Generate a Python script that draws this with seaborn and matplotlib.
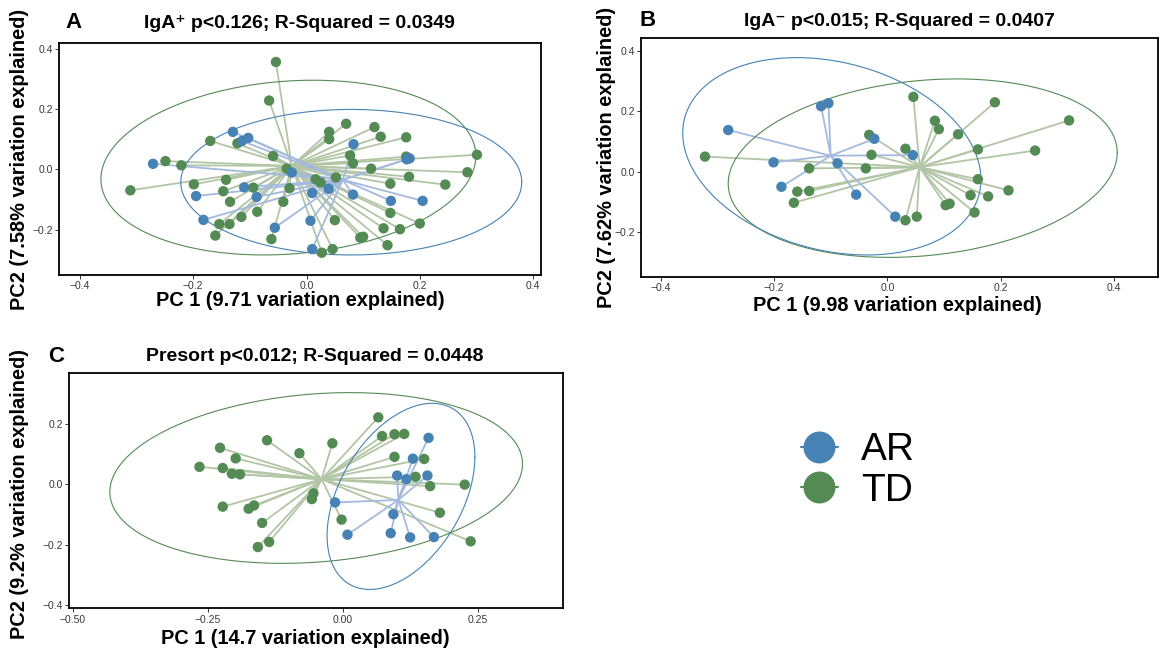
import numpy as np
import pandas as pd
import matplotlib
matplotlib.use("Agg")
import matplotlib.pyplot as plt
import seaborn as sns
from matplotlib.lines import Line2D

sns.set_theme(style="white")
plt.rcParams['font.family'] = ['Liberation Sans', 'DejaVu Sans']
plt.rcParams['axes.unicode_minus'] = True
plt.rcParams['text.color'] = 'black'

# ---------------- data ----------------
groups = ["AR", "TD"]

# Panel A (IgA+)
a_ar_x = [-0.130, -0.114, -0.103, 0.083, -0.271, 0.177, 0.182, -0.026, -0.110, -0.088,
          -0.195, 0.010, 0.039, 0.082, 0.149, 0.205, -0.182, 0.007, -0.056, 0.010]
a_ar_y = [0.124, 0.094, 0.104, 0.083, 0.018, 0.033, 0.036, -0.011, -0.060, -0.092,
          -0.089, -0.079, -0.065, -0.084, -0.105, -0.105, -0.168, -0.171, -0.194, -0.265]
a_td_x = [-0.054, -0.066, 0.070, 0.120, 0.040, 0.131, 0.040, 0.176, -0.170, -0.122,
          -0.059, 0.301, -0.249, -0.221, 0.077, 0.082, -0.035, 0.176, 0.114, 0.284,
          0.181, -0.311, -0.199, -0.142, -0.147, -0.094, -0.030, 0.016, 0.025, 0.052,
          0.148, 0.245, -0.135, -0.041, -0.087, -0.115, -0.154, -0.136, -0.161, -0.062,
          0.050, 0.148, 0.136, 0.165, 0.200, 0.095, 0.100, 0.143, 0.046, 0.027]
a_td_y = [0.356, 0.228, 0.151, 0.140, 0.124, 0.108, 0.100, 0.106, 0.094, 0.086,
          0.044, 0.048, 0.027, 0.013, 0.046, 0.020, 0.002, 0.042, 0.002, -0.010,
          -0.025, -0.070, -0.050, -0.035, -0.073, -0.061, -0.063, -0.033, -0.044, -0.027,
          -0.048, -0.051, -0.108, -0.108, -0.141, -0.158, -0.182, -0.182, -0.220, -0.232,
          -0.169, -0.145, -0.196, -0.199, -0.180, -0.227, -0.224, -0.252, -0.265, -0.277]
a_centroid_ar = [0.064, -0.035]
a_centroid_td = [-0.026, 0.011]
# ellipse: centre x, centre y, half-width, half-height, phase (deg)
a_ellipse_ar = [0.079, -0.043, 0.301, 0.2415, 90.0]
a_ellipse_td = [-0.032, 0.0055, 0.331, 0.290, 82.4]

# Panel B (IgA-)
b_ar_x = [-0.104, -0.117, -0.281, -0.023, 0.045, -0.201, -0.088, -0.187, -0.055, 0.014]
b_ar_y = [0.227, 0.217, 0.138, 0.109, 0.055, 0.031, 0.028, -0.050, -0.076, -0.149]
b_td_x = [0.046, 0.190, 0.084, 0.091, 0.321, 0.125, -0.032, 0.160, 0.261, 0.032,
          -0.028, -0.322, -0.138, -0.038, 0.160, 0.214, -0.159, -0.138, 0.147, 0.178,
          -0.165, 0.103, 0.110, 0.154, 0.032, 0.052]
b_td_y = [0.248, 0.230, 0.169, 0.141, 0.170, 0.124, 0.122, 0.074, 0.070, 0.076,
          0.056, 0.050, 0.011, 0.011, -0.025, -0.062, -0.066, -0.064, -0.078, -0.082,
          -0.103, -0.111, -0.106, -0.135, -0.161, -0.149]
b_centroid_ar = [-0.100, 0.053]
b_centroid_td = [0.057, 0.015]
b_ellipse_ar = [-0.098, 0.051, 0.2633, 0.327, 103.6]
b_ellipse_td = [0.0625, 0.0117, 0.3435, 0.2957, 80.0]

# Panel C (Presort)
c_ar_x = [0.159, 0.130, 0.101, 0.118, 0.157, -0.014, 0.094, 0.009, 0.089, 0.125, 0.169]
c_ar_y = [0.154, 0.085, 0.029, 0.017, 0.029, -0.060, -0.099, -0.167, -0.162, -0.176, -0.175]
c_td_x = [0.066, 0.073, 0.096, 0.114, -0.140, -0.019, -0.227, -0.080, -0.198, 0.096,
          0.151, -0.265, -0.222, -0.205, -0.190, 0.135, 0.162, 0.226, -0.054, -0.057,
          -0.222, -0.174, -0.164, -0.002, 0.180, -0.149, -0.136, -0.157, 0.237]
c_td_y = [0.222, 0.160, 0.166, 0.167, 0.146, 0.136, 0.121, 0.103, 0.086, 0.091,
          0.084, 0.058, 0.054, 0.035, 0.033, 0.025, -0.006, -0.001, -0.030, -0.049,
          -0.074, -0.081, -0.070, -0.117, -0.094, -0.128, -0.191, -0.208, -0.189]
c_centroid_ar = [0.103, -0.052]
c_centroid_td = [-0.039, 0.017]
c_ellipse_ar = [0.108, -0.040, 0.1368, 0.3085, 65.0]
c_ellipse_td = [-0.049, 0.021, 0.382, 0.283, 80.6]

panel_letters = ["A", "B", "C"]
panel_titles = ["IgA\u207a p<0.126; R-Squared = 0.0349",
                "IgA\u207b p<0.015; R-Squared = 0.0407",
                "Presort p<0.012; R-Squared = 0.0448"]
x_labels = ["PC 1 (9.71 variation explained)",
            "PC 1 (9.98 variation explained)",
            "PC 1 (14.7 variation explained)"]
y_labels = ["PC2 (7.58% variation explained)",
            "PC2 (7.62% variation explained)",
            "PC2 (9.2% variation explained)"]
ab_xticks = [-0.4, -0.2, 0.0, 0.2, 0.4]
ab_xticklabels = ["\u22120.4", "\u22120.2", "0.0", "0.2", "0.4"]
ab_yticks = [-0.2, 0.0, 0.2, 0.4]
ab_yticklabels = ["\u22120.2", "0.0", "0.2", "0.4"]
c_xticks = [-0.50, -0.25, 0.00, 0.25]
c_xticklabels = ["\u22120.50", "\u22120.25", "0.00", "0.25"]
c_yticks = [-0.4, -0.2, 0.0, 0.2]
c_yticklabels = ["\u22120.4", "\u22120.2", "0.0", "0.2"]

# ---------------- style ----------------
point_colors = {"AR": "#4682B4", "TD": "#548B54"}
segment_colors = {"AR": "#a4b9df", "TD": "#b2c5a5"}

W, H = 1160, 652
fig = plt.figure(figsize=(W / 100, H / 100), dpi=100)


def rect(l, t, r, b):
    return [l / W, 1 - b / H, (r - l) / W, (b - t) / H]


def draw_panel(ax, ar_x, ar_y, td_x, td_y, cen_ar, cen_td, ell_ar, ell_td,
               xlim, ylim, xt, xtl, yt, ytl):
    sets = {"AR": (ar_x, ar_y, cen_ar, ell_ar), "TD": (td_x, td_y, cen_td, ell_td)}
    for g in ["TD", "AR"]:
        xs, ys, cen, _ = sets[g]
        for x, y in zip(xs, ys):
            ax.plot([cen[0], x], [cen[1], y], color=segment_colors[g], lw=1.3,
                    zorder=1, solid_capstyle="butt")
    t = np.linspace(0, 2 * np.pi, 500)
    for g in ["TD", "AR"]:
        cx, cy, rx, ry, ph = sets[g][3]
        ax.plot(cx + rx * np.cos(t), cy + ry * np.cos(t - np.radians(ph)),
                color=point_colors[g], lw=0.8, zorder=2)
    df = pd.concat([
        pd.DataFrame({"x": td_x, "y": td_y, "group": "TD"}),
        pd.DataFrame({"x": ar_x, "y": ar_y, "group": "AR"}),
    ], ignore_index=True)
    sns.scatterplot(data=df, x="x", y="y", hue="group", palette=point_colors,
                    s=56, edgecolor="none", linewidth=0, legend=False, ax=ax, zorder=3)
    ax.set_xlim(*xlim)
    ax.set_ylim(*ylim)
    ax.set_xticks(xt)
    ax.set_xticklabels(xtl)
    ax.set_yticks(yt)
    ax.set_yticklabels(ytl)
    ax.set_xlabel("")
    ax.set_ylabel("")
    ax.tick_params(axis="both", which="major", length=3, width=0.7, color="#333333",
                   labelsize=7.5, labelcolor="#3a3a3a", pad=1.5, bottom=True, left=True)
    for sp in ax.spines.values():
        sp.set_visible(True)
        sp.set_color("black")
        sp.set_linewidth(1.3)
    ax.grid(False)
    ax.set_facecolor("white")


axA = fig.add_axes(rect(59, 43, 541, 275))
draw_panel(axA, a_ar_x, a_ar_y, a_td_x, a_td_y, a_centroid_ar, a_centroid_td,
           a_ellipse_ar, a_ellipse_td, (-0.437, 0.414), (-0.351, 0.419),
           ab_xticks, ab_xticklabels, ab_yticks, ab_yticklabels)
axB = fig.add_axes(rect(641, 37.7, 1158, 276.7))
draw_panel(axB, b_ar_x, b_ar_y, b_td_x, b_td_y, b_centroid_ar, b_centroid_td,
           b_ellipse_ar, b_ellipse_td, (-0.435, 0.478), (-0.348, 0.444),
           ab_xticks, ab_xticklabels, ab_yticks, ab_yticklabels)
axC = fig.add_axes(rect(69.3, 373.3, 563.3, 608.3))
draw_panel(axC, c_ar_x, c_ar_y, c_td_x, c_td_y, c_centroid_ar, c_centroid_td,
           c_ellipse_ar, c_ellipse_td, (-0.506, 0.4085), (-0.411, 0.368),
           c_xticks, c_xticklabels, c_yticks, c_yticklabels)


def ftext(x, y, s, **kw):
    fig.text(x / W, 1 - y / H, s, **kw)


letter_pos = [(73, 23), (648, 21), (56, 356)]
title_pos = [(299, 23), (899, 21), (315, 357)]
xlab_pos = [(300, 300), (897, 306), (305, 638)]
ylab_pos = [(20, 159), (606, 157), (20, 494)]
for i in range(3):
    ftext(*letter_pos[i], panel_letters[i], fontsize=16, fontweight="bold",
          ha="center", va="center", color="black")
    ftext(*title_pos[i], panel_titles[i], fontsize=14, fontweight="bold",
          ha="center", va="center", color="black")
    ftext(*xlab_pos[i], x_labels[i], fontsize=14.4, fontweight="bold",
          ha="center", va="center", color="black")
    ftext(*ylab_pos[i], y_labels[i], fontsize=14.4, fontweight="bold",
          ha="center", va="center", rotation=90, color="black")

handles = [Line2D([0], [0], color=point_colors[g], marker="o", markersize=23,
                  lw=1.5, markeredgewidth=0) for g in groups]
leg = fig.legend(handles, groups, loc="center left",
                 bbox_to_anchor=(801 / W, 1 - 470.5 / H), frameon=False, fontsize=28,
                 handlelength=0.95, handletextpad=0.6, labelspacing=0.12,
                 borderpad=0, borderaxespad=0)
for txt in leg.get_texts():
    txt.set_color("black")

fig.savefig("out.png", dpi=100, facecolor="white")
